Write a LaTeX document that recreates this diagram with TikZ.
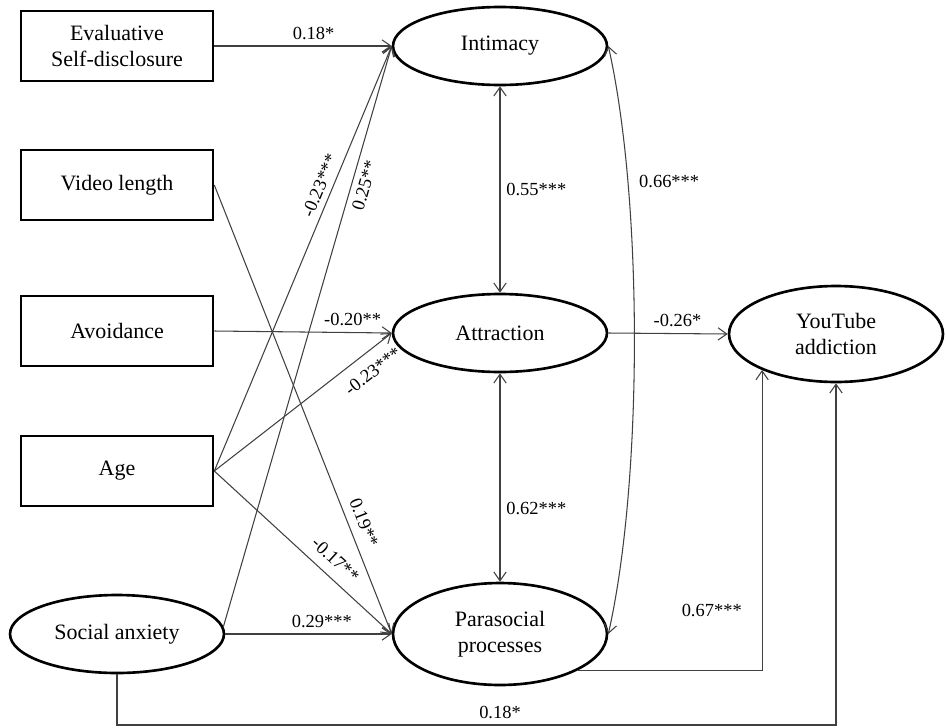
\documentclass[tikz,border=0pt]{standalone}
\usepackage{fontspec}
\setmainfont{Liberation Serif}
\usetikzlibrary{shapes.geometric,arrows.meta}
\tikzset{
	obs/.style={draw,line width=1.5pt,minimum width=3.84cm,minimum height=1.4cm,align=center,font=\fontsize{12.5}{15}\selectfont},
	lat/.style={ellipse,draw,line width=1.5pt,inner sep=0pt,minimum width=4.28cm,minimum height=1.56cm,align=center,font=\fontsize{12.5}{15}\selectfont},
	path/.style={draw=black!75,line width=0.6pt,-{Straight Barb[length=5pt,width=7pt]}},
	biarrow/.style={draw=black!75,line width=0.6pt,{Straight Barb[length=5pt,width=7pt]}-{Straight Barb[length=5pt,width=7pt]}},
	coef/.style={font=\fontsize{10.5}{12}\selectfont,text=black}
}
\begin{document}
\begin{tikzpicture}[x=0.02cm,y=-0.02cm]
	\useasboundingbox (0,0) rectangle (946,727);
	\node [obs] (eval) at (117,46) {Evaluative\\Self-disclosure};
	\node [obs] (video) at (117,185) {Video length};
	\node [obs] (avoid) at (117,331) {Avoidance};
	\node [obs] (age) at (117,471) {Age};
	\node [lat] (anx) at (117,634) {Social anxiety};
	\node [lat] (intim) at (500,46) {Intimacy};
	\node [lat] (attr) at (500,333) {Attraction};
	\node [lat,minimum height=2.04cm] (para) at (500,634) {Parasocial\\processes};
	\node [lat,minimum height=1.92cm] (addict) at (836,334) {YouTube\\addiction};
	\coordinate (bot) at (500,725);

	\draw [path] (eval.east) -- node [coef,above,pos=0.56] {0.18*} (intim.west);
	\draw [path] (video.east) -- node [coef,sloped,above=0.05cm,pos=0.764] {0.19**} (para.west);
	\draw [path] (avoid.east) -- node [coef,above,pos=0.78] {-0.20**} (attr.west);
	\draw [path] (age.east) -- node [coef,sloped,above,pos=0.66] {-0.23***} (intim.west);
	\draw [path] (age.east) -- node [coef,sloped,below=0.12cm,pos=0.83] {-0.23***} (attr.west);
	\draw [path] (age.east) -- node [coef,sloped,above=0.08cm,pos=0.62] {-0.17**} (para.west);
	\draw [path] (anx.4) -- node [coef,sloped,below,pos=0.766] {0.25**} (intim.west);
	\draw [path] (anx.east) -- node [coef,above,pos=0.58] {0.29***} (para.west);
	\draw [path] (anx.south) |- (bot) node [coef,above] {0.18*} -| (addict.south);

	\draw [biarrow] (intim) -- node [coef,right] {0.55***} (attr);
	\draw [biarrow] (attr) -- node [coef,right,pos=0.65] {0.62***} (para);
	\draw [biarrow] (intim.east) .. controls (643,200) and (643,480) .. node [coef,right=0.1cm,pos=0.25] {0.66***} (para.east);

	\draw [path] (attr.east) -- node [coef,above,pos=0.58] {-0.26*} (addict.west);
	\draw [path] (para.-25) -| node [coef,left=0.28cm,pos=0.6] {0.67***} (addict.-154);
\end{tikzpicture}
\end{document}
